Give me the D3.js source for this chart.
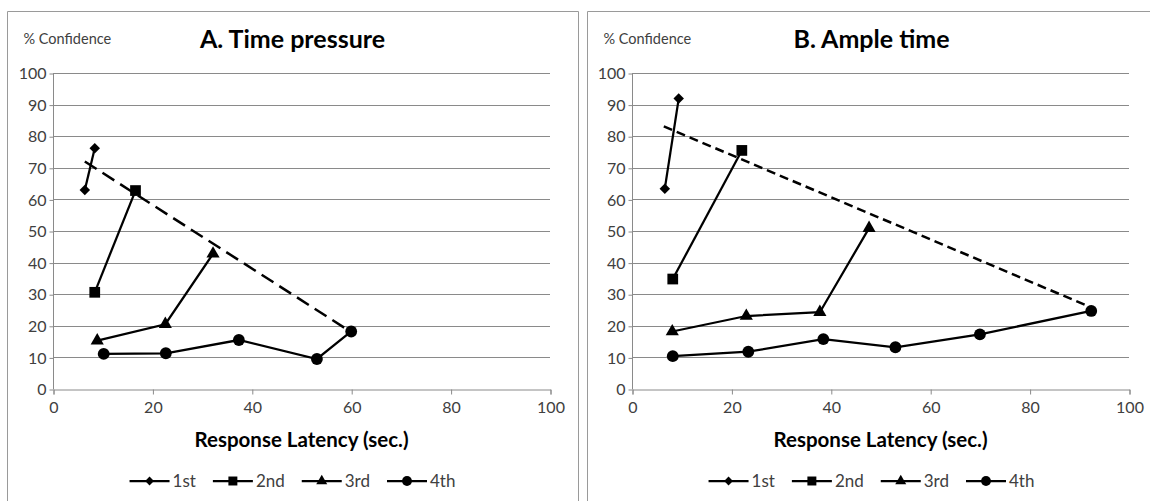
<!DOCTYPE html>
<html>
<head>
<meta charset="utf-8">
<script src="https://cdn.jsdelivr.net/npm/d3@7"></script>
<style>
  body { margin: 0; background: #fff; }
  svg { display: block; font-family: Lato, "Open Sans", sans-serif; }
</style>
</head>
<body>
<svg id="chart" width="1150" height="501"></svg>
<script>
// data
const seriesLabels = ["1st", "2nd", "3rd", "4th"];
const xTicks = [0, 20, 40, 60, 80, 100];
const yTicks = [0, 10, 20, 30, 40, 50, 60, 70, 80, 90, 100];

// A. time pressure
const pressureLatency = [[6.4, 8.4], [8.4, 16.6], [8.9, 22.6, 32.2], [10.2, 22.7, 37.4, 53.1, 60.0]];
const pressureConfidence = [[63.0, 76.2], [30.6, 62.8], [15.3, 20.5, 42.8], [11.1, 11.3, 15.5, 9.5, 18.2]];
const pressureDashLatency = [6.4, 60.0];
const pressureDashConfidence = [72.0, 18.0];

// B. ample time
const ampleLatency = [[6.6, 9.4], [8.2, 22.1], [8.1, 23.0, 37.8, 47.7], [8.2, 23.4, 38.5, 53.0, 70.0, 92.4]];
const ampleConfidence = [[63.4, 91.9], [34.8, 75.5], [18.2, 23.1, 24.3, 50.9], [10.4, 11.8, 15.8, 13.2, 17.3, 24.7]];
const ampleDashLatency = [6.4, 92.4];
const ampleDashConfidence = [83.1, 25.8];

const svg = d3.select("#chart");
const gridColor = "#8a8a8a";
const textColor = "#404040";

// excel style diamond (square turned 45 deg)
const diamond = {
  draw(ctx, size) {
    const r = Math.sqrt(size / 2);
    ctx.moveTo(0, -r);
    ctx.lineTo(r, 0);
    ctx.lineTo(0, r);
    ctx.lineTo(-r, 0);
    ctx.closePath();
  }
};
const symbols = [diamond, d3.symbolSquare, d3.symbolTriangle, d3.symbolCircle];
const symbolSizes = [55, 115, 75, 110];

function drawPanel(p) {
  const g = svg.append("g");

  // frame
  g.append("path")
    .attr("d", `M${p.left},520 V${p.top} H${p.right} V520`)
    .attr("fill", "none").attr("stroke", "#9a9a9a").attr("stroke-width", 1);

  const x = d3.scaleLinear().domain([0, 100]).range([p.x0, p.x1]);
  const y = d3.scaleLinear().domain([0, 100]).range([389, 73]);

  // horizontal grid
  g.append("g").selectAll("line").data(yTicks.filter(d => d > 0)).join("line")
    .attr("x1", p.x0).attr("x2", p.x1)
    .attr("y1", d => Math.round(y(d)) + 0.5).attr("y2", d => Math.round(y(d)) + 0.5)
    .attr("stroke", gridColor).attr("stroke-width", 1);

  const yAxis = g.append("g")
    .attr("transform", `translate(${p.x0 + 0.5},0.5)`)
    .call(d3.axisLeft(y).tickValues(yTicks).tickSize(4).tickPadding(3));
  const xAxis = g.append("g")
    .attr("transform", `translate(0.5,389.5)`)
    .call(d3.axisBottom(x).tickValues(xTicks).tickSize(5).tickPadding(7));

  [xAxis, yAxis].forEach(a => {
    a.select(".domain").attr("stroke", gridColor);
    a.selectAll(".tick line").attr("stroke", gridColor);
    a.selectAll("text").attr("fill", textColor).style("font-size", "16px")
      .style("font-family", "Lato, sans-serif");
  });
  yAxis.select(".domain").attr("d", `M0,${y(0)}V${y(100)}`);

  // dashed line
  const line = d3.line().x(d => x(d[0])).y(d => y(d[1]));
  g.append("path")
    .datum(d3.zip(p.dashX, p.dashY))
    .attr("d", line)
    .attr("fill", "none").attr("stroke", "#000").attr("stroke-width", 2.5)
    .attr("stroke-dasharray", p.dash);

  // series
  seriesLabels.forEach((name, i) => {
    const pts = d3.zip(p.lat[i], p.conf[i]);
    g.append("path").datum(pts).attr("d", line)
      .attr("fill", "none").attr("stroke", "#000").attr("stroke-width", 2.25);
    g.append("g").selectAll("path").data(pts).join("path")
      .attr("transform", d => `translate(${x(d[0])},${y(d[1])})`)
      .attr("d", d3.symbol(symbols[i], symbolSizes[i]))
      .attr("fill", "#000");
  });

  // labels
  g.append("text").attr("x", p.left + 16).attr("y", 44)
    .attr("fill", textColor).style("font-size", "14.5px").text("% Confidence");
  g.append("text").attr("x", (p.x0 + p.x1) / 2 - 9).attr("y", 48)
    .attr("text-anchor", "middle").attr("fill", "#000")
    .style("font-size", "25px").style("font-weight", "bold").text(p.title);
  g.append("text").attr("x", (p.x0 + p.x1) / 2).attr("y", 447)
    .attr("text-anchor", "middle").attr("fill", "#000")
    .style("font-size", "20.5px").style("font-weight", "bold").text("Response Latency (sec.)");

  // legend
  const leg = g.append("g");
  let cx = 0;
  seriesLabels.forEach((name, i) => {
    const item = leg.append("g").attr("transform", `translate(${cx},0)`);
    item.append("line").attr("x1", 0).attr("x2", 40).attr("y1", 0).attr("y2", 0)
      .attr("stroke", "#000").attr("stroke-width", 2.25);
    item.append("path").attr("transform", "translate(20,0)")
      .attr("d", d3.symbol(symbols[i], symbolSizes[i] * 0.7)).attr("fill", "#000");
    const t = item.append("text").attr("x", 43).attr("y", 6)
      .attr("fill", textColor).style("font-size", "17px").text(name);
    cx += 43 + t.node().getComputedTextLength() + 17;
  });
  const legW = cx - 17;
  leg.attr("transform", `translate(${(p.x0 + p.x1) / 2 - 9 - legW / 2},481)`);
}

drawPanel({
  left: 7.5, top: 11.5, right: 578.5, x0: 53, x1: 550,
  title: "A. Time pressure", lat: pressureLatency, conf: pressureConfidence,
  dashX: pressureDashLatency, dashY: pressureDashConfidence, dash: "14,7"
});
drawPanel({
  left: 587.5, top: 11.5, right: 1160, x0: 632, x1: 1129,
  title: "B. Ample time", lat: ampleLatency, conf: ampleConfidence,
  dashX: ampleDashLatency, dashY: ampleDashConfidence, dash: "9,5"
});
</script>
</body>
</html>
